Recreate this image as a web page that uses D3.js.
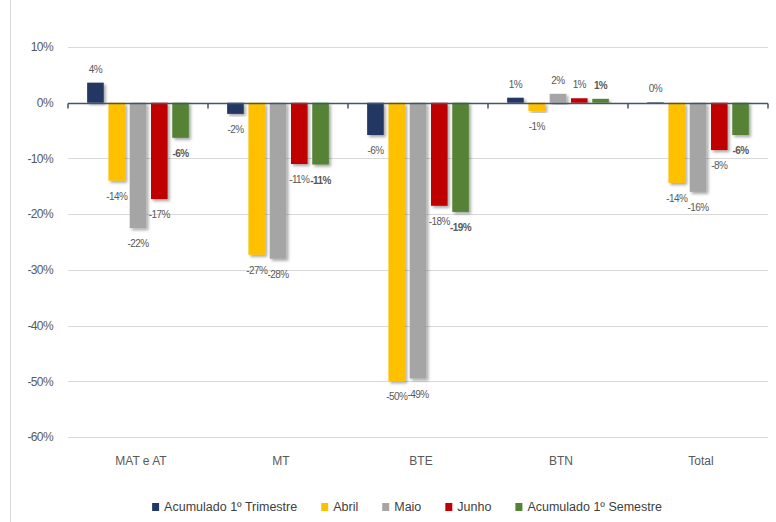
<!DOCTYPE html>
<html>
<head>
<meta charset="utf-8">
<script src="https://cdn.jsdelivr.net/npm/d3@7"></script>
<style>
  body { margin: 0; background: #fff; }
  text { font-family: "Liberation Sans", sans-serif; }
</style>
</head>
<body>
<script>
// data
var categories = ["MAT e AT", "MT", "BTE", "BTN", "Total"];
var seriesNames = ["Acumulado 1º Trimestre", "Abril", "Maio", "Junho", "Acumulado 1º Semestre"];
var seriesColors = ["#203864", "#ffc000", "#a5a5a5", "#c00000", "#548235"];
var acumTrim  = [3.6, -2.0, -5.8, 0.9, 0.1];
var abril     = [-14.0, -27.3, -50.0, -1.5, -14.4];
var maio      = [-22.5, -28.0, -49.5, 1.6, -16.0];
var junho     = [-17.3, -11.0, -18.5, 0.8, -8.5];
var acumSem   = [-6.3, -11.1, -19.6, 0.7, -5.8];
var labels = [
  ["4%", "-2%", "-6%", "1%", "0%"],
  ["-14%", "-27%", "-50%", "-1%", "-14%"],
  ["-22%", "-28%", "-49%", "2%", "-16%"],
  ["-17%", "-11%", "-18%", "1%", "-8%"],
  ["-6%", "-11%", "-19%", "1%", "-6%"]
];
var yTicks = [10, 0, -10, -20, -30, -40, -50, -60];

var values = [acumTrim, abril, maio, junho, acumSem];

var W = 776, H = 522;
var svg = d3.select("body").append("svg")
    .attr("width", W)
    .attr("height", H);

var defs = svg.append("defs");
var f = defs.append("filter").attr("id", "shadow")
    .attr("x", "-30%").attr("y", "-10%").attr("width", "160%").attr("height", "130%");
f.append("feDropShadow").attr("dx", 2).attr("dy", 2)
    .attr("stdDeviation", 1.5).attr("flood-color", "#000").attr("flood-opacity", 0.35);

// chart frame (only the left edge shows)
svg.append("line")
    .attr("x1", 10.5).attr("x2", 10.5).attr("y1", 0).attr("y2", H)
    .attr("stroke", "#d9d9d9");

var y = d3.scaleLinear().domain([-60, 10]).range([437, 47]);
var x0 = d3.scaleBand().domain(categories).range([68, 768]).padding(0);
var x1 = d3.scaleBand().domain(d3.range(5)).range([0, x0.bandwidth()])
    .paddingInner(0.22).paddingOuter(0.9);

// gridlines
svg.append("g").selectAll("line")
  .data(yTicks.filter(function(d){ return d !== 0; }))
  .enter().append("line")
    .attr("x1", 68).attr("x2", 768)
    .attr("y1", function(d){ return Math.round(y(d)) + 0.5; })
    .attr("y2", function(d){ return Math.round(y(d)) + 0.5; })
    .attr("stroke", "#d9d9d9").attr("stroke-width", 1);

// y axis labels
var yAxis = svg.append("g").attr("transform", "translate(53,0)")
    .call(d3.axisLeft(y).tickValues(yTicks).tickSize(0).tickPadding(0)
      .tickFormat(function(d){ return d + "%"; }));
yAxis.select(".domain").remove();
yAxis.selectAll("text").attr("font-size", 12).attr("fill", "#595959")
    .attr("letter-spacing", -0.6)
    .style("font-family", "'Liberation Sans', sans-serif");

// bars
var groups = svg.append("g").selectAll("g")
  .data(values)
  .enter().append("g")
    .attr("fill", function(d, i){ return seriesColors[i]; });

groups.each(function(vals, si) {
  d3.select(this).selectAll("rect")
    .data(vals)
    .enter().append("rect")
      .attr("x", function(d, ci){ return x0(categories[ci]) + x1(si); })
      .attr("width", x1.bandwidth())
      .attr("y", function(d){ return y(Math.max(0, d)); })
      .attr("height", function(d){ return Math.abs(y(d) - y(0)); })
      .attr("filter", "url(#shadow)");
});

// zero axis line with ticks
var zeroY = Math.round(y(0)) + 0.5;
svg.append("line")
    .attr("x1", 68).attr("x2", 768).attr("y1", zeroY).attr("y2", zeroY)
    .attr("stroke", "#44546a").attr("stroke-width", 1.5);
svg.append("g").selectAll("line")
  .data(d3.range(categories.length + 1))
  .enter().append("line")
    .attr("x1", function(i){ return 68 + i * x0.step(); })
    .attr("x2", function(i){ return 68 + i * x0.step(); })
    .attr("y1", zeroY).attr("y2", zeroY + 5)
    .attr("stroke", "#44546a").attr("stroke-width", 1.5);

// data labels
values.forEach(function(vals, si) {
  svg.append("g").selectAll("text")
    .data(vals)
    .enter().append("text")
      .attr("x", function(d, ci){ return x0(categories[ci]) + x1(si) + x1.bandwidth() / 2; })
      .attr("y", function(d){ return d >= 0 ? y(d) - 10 : y(d) + 19; })
      .attr("text-anchor", "middle")
      .attr("font-size", 10)
      .attr("letter-spacing", -0.6)
      .attr("font-weight", si === 4 ? "bold" : "normal")
      .attr("fill", "#595959")
      .text(function(d, ci){ return labels[si][ci]; });
});

// category labels
svg.append("g").selectAll("text")
  .data(categories)
  .enter().append("text")
    .attr("x", function(d){ return x0(d) + x0.bandwidth() / 2 + 3; })
    .attr("y", 465)
    .attr("text-anchor", "middle")
    .attr("font-size", 12)
    .attr("fill", "#595959")
    .text(function(d){ return d; });

// legend
var legend = svg.append("g");
var lx = 0;
seriesNames.forEach(function(name, i) {
  var item = legend.append("g").attr("transform", "translate(" + lx + ",0)");
  item.append("rect").attr("x", 0).attr("y", -8).attr("width", 7).attr("height", 8)
      .attr("fill", seriesColors[i]);
  var t = item.append("text").attr("x", 12).attr("y", 0)
      .attr("font-size", 12.5).attr("fill", "#404040").text(name);
  lx += 12 + t.node().getComputedTextLength() + 24;
});
var lw = lx - 24;
legend.attr("transform", "translate(" + (407 - lw / 2) + ",511)");
</script>
</body>
</html>
